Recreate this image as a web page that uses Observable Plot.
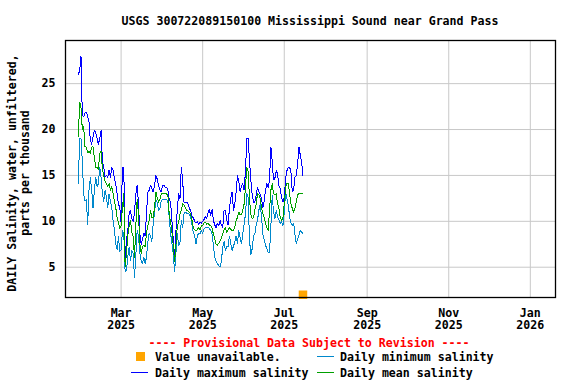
<!DOCTYPE html>
<html><head><meta charset="utf-8">
<script src="https://cdn.jsdelivr.net/npm/d3@7"></script>
<script src="https://cdn.jsdelivr.net/npm/@observablehq/plot@0.6"></script>
<style>
html,body{margin:0;padding:0;background:#fff;}
#chart svg{display:block;}
</style>
</head><body><div id="chart"></div>
<script>
const titleText = "USGS 300722089150100 Mississippi Sound near Grand Pass";
const yLabelLines = ["DAILY Salinity, water, unfiltered,", "parts per thousand"];
const provisionalText = "---- Provisional Data Subject to Revision ----";
const startDate = "2025-01-28";
const dailyMax = [
26.0,26.4,28.0,21.5,21.4,21.8,21.9,21.4,20.8,18.8,
18.4,19.2,19.9,19.7,19.1,18.4,19.0,19.9,16.6,15.9,
14.8,15.0,14.8,15.6,14.8,15.9,15.6,14.6,14.1,13.0,
11.9,11.5,9.8,15.9,15.9,6.0,8.0,9.0,10.8,11.2,
10.3,10.0,10.9,13.0,13.9,11.9,8.7,7.5,8.1,8.7,
8.4,10.9,13.2,13.4,13.9,13.6,13.2,13.9,15.0,14.6,
13.9,13.4,13.2,13.9,13.9,13.7,13.7,13.4,12.3,12.1,
10.1,8.0,6.0,9.0,11.2,13.0,12.4,15.9,14.5,12.1,
12.1,12.1,11.9,11.4,11.2,10.5,10.4,10.0,9.8,10.0,
9.6,9.9,9.8,10.0,10.2,10.5,10.3,10.9,11.3,10.6,
11.3,10.1,9.6,9.3,9.8,9.5,10.1,9.6,9.3,11.2,
11.2,10.1,9.6,11.4,12.5,13.2,11.2,11.9,13.2,15.0,
14.4,13.2,13.9,14.1,13.4,15.5,19.0,19.0,16.6,14.5,
12.9,12.1,12.1,12.9,13.7,13.2,12.9,12.5,11.5,12.2,
13.4,14.1,13.7,14.5,18.1,16.5,14.5,14.7,15.5,15.2,
13.9,13.6,12.6,12.1,12.6,14.6,15.5,15.9,15.9,15.4,
13.2,13.4,14.8,15.0,16.3,18.1,17.2,16.5,15.0];
const dailyMin = [
14.1,19.0,19.0,16.6,13.0,12.2,12.4,9.7,13.4,14.8,
13.4,11.5,13.4,14.8,13.8,14.1,15.9,14.8,13.0,12.2,
13.4,12.6,11.5,13.0,12.2,11.5,10.1,9.0,7.6,6.9,
8.3,6.7,6.9,9.0,8.7,4.5,4.6,6.1,7.2,5.7,
6.8,6.5,3.9,6.2,9.0,8.4,6.5,5.7,5.4,6.1,
5.4,6.1,7.8,8.7,8.4,7.8,9.8,10.9,12.4,12.0,
11.2,11.4,12.2,12.4,12.4,12.4,12.4,12.2,10.3,8.7,
7.6,6.5,4.5,6.5,8.7,7.4,7.6,10.1,9.3,10.8,
11.0,10.9,10.8,10.8,10.5,9.6,8.8,8.5,7.5,8.4,
8.7,8.6,9.0,8.7,9.2,9.3,9.3,9.4,9.2,9.0,
8.6,7.4,6.1,5.7,5.4,5.2,5.0,5.7,7.2,7.8,
6.8,7.3,7.2,8.4,7.6,6.8,7.3,7.7,8.4,7.6,
9.0,8.2,7.6,8.6,9.7,10.8,13.0,12.6,8.0,6.4,
7.0,8.4,8.6,9.6,10.1,11.2,11.9,10.5,8.6,8.0,
7.4,7.0,6.6,6.6,9.5,12.8,11.0,10.3,11.2,10.5,
10.2,9.8,10.0,9.5,11.0,13.2,12.5,11.8,10.5,9.8,
9.5,9.8,8.6,7.6,8.0,8.5,9.0,8.8,8.7];
const dailyMean = [
19.2,23.0,22.4,20.0,20.3,18.1,18.1,17.5,17.6,17.4,
18.1,18.1,16.9,15.9,15.9,15.6,17.4,17.6,15.8,15.0,
14.4,14.1,13.8,14.1,13.4,13.8,13.0,12.2,11.5,10.4,
9.9,9.2,9.5,11.5,13.0,5.0,6.5,8.4,9.5,10.1,
8.8,8.4,6.1,9.5,12.4,10.7,7.6,6.5,7.2,7.4,
7.2,8.8,9.5,10.1,11.2,10.4,10.4,11.5,13.2,12.6,
12.1,12.4,13.0,13.0,13.0,13.0,13.0,12.8,10.7,10.0,
8.8,7.4,5.6,7.4,9.5,9.9,10.8,11.2,11.9,11.8,
11.5,11.2,11.1,11.0,10.8,10.1,9.3,9.1,9.0,9.1,
9.3,9.1,9.5,9.5,9.8,9.9,9.7,9.8,9.6,9.5,
9.3,8.6,8.1,7.5,7.4,7.6,7.9,8.2,8.6,9.1,
9.3,8.8,9.1,9.3,9.1,9.0,9.0,9.3,10.1,10.4,
11.0,10.7,10.7,11.2,11.9,13.7,15.9,15.4,12.4,10.8,
10.3,10.4,11.2,11.9,13.0,12.9,12.5,11.5,10.8,10.4,
9.8,9.3,9.0,11.2,13.4,14.1,13.0,12.9,13.0,11.9,
11.4,10.4,10.1,10.4,11.9,13.7,14.1,14.1,13.0,11.9,
11.4,11.0,11.4,12.1,12.9,13.0,13.0,13.0,13.0];
const unavailableDates = ["2025-07-15"];
const unavailableValues = [2.0];
const xTickDates = ["2025-03-01","2025-05-01","2025-07-01","2025-09-01","2025-11-01","2026-01-01"];
const yTicks = [5, 10, 15, 20, 25];
const xDomain = ["2025-01-18T10:00:00Z", "2026-01-19T20:00:00Z"];
const yDomain = [1.7, 29.7];
const seriesNames = ["Daily maximum salinity", "Daily minimum salinity", "Daily mean salinity"];
const seriesColors = ["#0000ff", "#0088cc", "#00a000"];
const unavailableLabel = "Value unavailable.";
const unavailableColor = "#ffa500";

const font = "'DejaVu Sans Mono', 'Liberation Mono', monospace";
const start = new Date(startDate + "T00:00:00Z");
const toRows = arr => arr.map((v, i) => ({date: d3.utcDay.offset(start, i), value: v}));
const rowsMax = toRows(dailyMax), rowsMin = toRows(dailyMin), rowsMean = toRows(dailyMean);
const unavailRows = unavailableDates.map((d, i) => ({date: new Date(d + "T00:00:00Z"), value: unavailableValues[i]}));
const xTicks = xTickDates.map(d => new Date(d + "T00:00:00Z"));
const fmtMon = d3.utcFormat("%b"), fmtYear = d3.utcFormat("%Y");

const plot = Plot.plot({
  width: 576, height: 384,
  marginTop: 40, marginRight: 21, marginBottom: 87, marginLeft: 65,
  style: {fontFamily: font, fontSize: "11.6px", fontWeight: "bold", color: "#000", background: "#fff", overflow: "visible"},
  x: {type: "utc", domain: xDomain.map(d => new Date(d))},
  y: {domain: yDomain},
  marks: [
    Plot.gridX(xTicks, {stroke: "#c8c8c8", strokeOpacity: 1, strokeWidth: 1}),
    Plot.gridY(yTicks, {stroke: "#c8c8c8", strokeOpacity: 1, strokeWidth: 1}),
    Plot.axisX(xTicks, {tickSize: 0, tickPadding: 10, tickFormat: d => fmtMon(d) + "\n" + fmtYear(d), lineHeight: 1.1, label: null, fill: "#000"}),
    Plot.axisY(yTicks, {tickSize: 0, tickPadding: 10, label: null, fill: "#000"}),
    Plot.line(rowsMax, {x: "date", y: "value", stroke: seriesColors[0], strokeWidth: 1, shapeRendering: "crispEdges"}),
    Plot.line(rowsMin, {x: "date", y: "value", stroke: seriesColors[1], strokeWidth: 1, shapeRendering: "crispEdges"}),
    Plot.line(rowsMean, {x: "date", y: "value", stroke: seriesColors[2], strokeWidth: 1, shapeRendering: "crispEdges"}),
    Plot.dot(unavailRows, {x: "date", y: "value", symbol: "square", fill: unavailableColor, stroke: "none", r: 4.8}),
    Plot.frame({stroke: "#000", strokeWidth: 1.3})
  ]
});

const svg = d3.select(plot);
const addText = (x, y, txt, opts = {}) => svg.append("text")
  .attr("x", x).attr("y", y)
  .attr("text-anchor", opts.anchor || "start")
  .attr("fill", opts.fill || "#000")
  .style("font-family", font).style("font-weight", "bold").style("font-size", "11.6px")
  .style("white-space", "pre")
  .text(txt);

addText(310, 24.5, titleText, {anchor: "middle"});
yLabelLines.forEach((t, i) => {
  svg.append("text")
    .attr("transform", `translate(${[12, 25][i]},173) rotate(-90)`)
    .attr("text-anchor", "middle").attr("dy", "0.35em")
    .attr("fill", "#000")
    .style("font-family", font).style("font-weight", "bold").style("font-size", "11.6px")
    .text(t);
});
addText(309, 347, provisionalText, {anchor: "middle", fill: "#ff0000"});
// legend
svg.append("rect").attr("x", 136).attr("y", 352).attr("width", 9).attr("height", 9).attr("fill", unavailableColor);
addText(155, 361, unavailableLabel);
const legendPos = [[131, 372.5, 155, 376.5], [317, 356.5, 340, 361], [317, 372.5, 340, 376.5]];
seriesNames.forEach((name, i) => {
  const [lx, ly, tx, ty] = legendPos[i];
  svg.append("line").attr("x1", lx).attr("x2", lx + 17).attr("y1", ly).attr("y2", ly)
    .attr("stroke", seriesColors[i]).attr("stroke-width", 1);
  addText(tx, ty, name);
});

document.getElementById("chart").appendChild(plot);
</script>
</body></html>
